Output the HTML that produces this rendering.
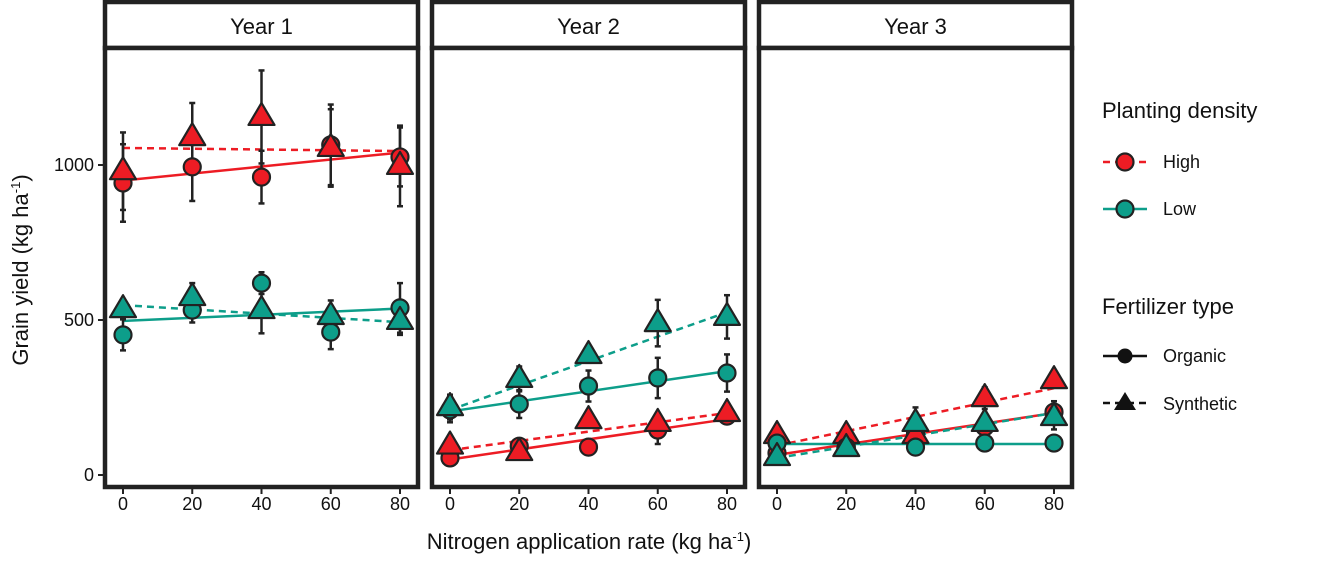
<!DOCTYPE html>
<html><head><meta charset="utf-8"><style>
body{margin:0;background:#fff;}
svg text{font-family:"Liberation Sans",sans-serif;fill:#111;}
</style></head><body>
<svg id="chart" width="1333" height="558" viewBox="0 0 1333 558" xmlns="http://www.w3.org/2000/svg"></svg>
<script>
const years = ["Year 1","Year 2","Year 3"];
const nRates = [0,20,40,60,80];
const yTicks = [0,500,1000];
const xTicks = [0,20,40,60,80];
const orgHigh = [[942,994,961,1065,1026],[55,93,90,145,190],[71,90,135,155,203]];
const synHigh = [[980,1090,1155,1055,997],[95,74,177,168,200],[129,129,129,248,306]];
const orgLow  = [[452,532,619,461,539],[210,229,287,313,329],[103,90,90,103,103]];
const synLow  = [[535,574,532,513,497],[219,310,387,490,510],[58,87,168,168,187]];
const sdOrgHigh = [[125,110,85,130,95],[15,15,10,45,25],[10,15,15,15,35]];
const sdSynHigh = [[125,110,150,125,130],[15,15,15,15,25],[20,15,20,35,20]];
const sdOrgLow  = [[50,40,35,55,80],[40,45,50,65,60],[15,15,15,15,15]];
const sdSynLow  = [[30,45,75,50,45],[40,40,25,75,70],[15,15,50,20,40]];
const fitOrgHigh = [[950,1040],[50,180],[65,200]];
const fitSynHigh = [[1055,1045],[80,200],[95,280]];
const fitOrgLow  = [[497,537],[205,335],[100,100]];
const fitSynLow  = [[548,493],[210,525],[55,200]];

const svg=document.getElementById('chart');
const NS="http://www.w3.org/2000/svg";
function mk(t,a,p){const e=document.createElementNS(NS,t);for(const k in a)e.setAttribute(k,a[k]);(p||svg).appendChild(e);return e;}
const panelX=[105,432,759], panelW=313, panelTop=48, panelBot=487;
const y=v=>475-v*0.31;
const xf=(i,v)=>panelX[i]+18+v*(277/80);
const RED="#ed1c24", TEAL="#0d9e8a";

years.forEach((yr,i)=>{
  const px=panelX[i];
  const strip=mk('rect',{x:px,y:2,width:panelW,height:46,fill:'#fff',stroke:'#222','stroke-width':4.5});
  
  
  const st=mk('text',{x:px+panelW/2,y:34,'text-anchor':'middle','font-size':22});st.textContent=yr;
  
  
  const pr=mk('rect',{x:px,y:panelTop,width:panelW,height:panelBot-panelTop,fill:'#fff',stroke:'#222','stroke-width':4.5});
  
  
  xTicks.forEach(t=>{
    mk('line',{x1:xf(i,t),x2:xf(i,t),y1:panelBot+2,y2:panelBot+7,stroke:'#222','stroke-width':2});
    const tx=mk('text',{x:xf(i,t),y:510,'text-anchor':'middle','font-size':18});tx.textContent=t;
    
    
  });
  const series=[
    [fitOrgHigh,orgHigh,sdOrgHigh,RED,false,'circle'],
    [fitSynHigh,synHigh,sdSynHigh,RED,true,'tri'],
    [fitOrgLow,orgLow,sdOrgLow,TEAL,false,'circle'],
    [fitSynLow,synLow,sdSynLow,TEAL,true,'tri']];
  series.forEach(s=>{
    const ln=mk('line',{x1:xf(i,0),x2:xf(i,80),y1:y(s[0][i][0]),y2:y(s[0][i][1]),stroke:s[3],'stroke-width':2.5,'stroke-dasharray':s[4]?'7,5':'none'});
    
    
  });
  series.forEach(s=>{
    nRates.forEach((r,j)=>{
      const cx=xf(i,r),v=s[1][i][j],sd=s[2][i][j];
      mk('line',{x1:cx,x2:cx,y1:y(v-sd),y2:y(v+sd),stroke:'#222','stroke-width':2.5});
      mk('line',{x1:cx-3,x2:cx+3,y1:y(v-sd),y2:y(v-sd),stroke:'#222','stroke-width':2.5});
      mk('line',{x1:cx-3,x2:cx+3,y1:y(v+sd),y2:y(v+sd),stroke:'#222','stroke-width':2.5});
    });
  });
  series.forEach(s=>{
    nRates.forEach((r,j)=>{
      const cx=xf(i,r),cy=y(s[1][i][j]);let m;
      if(s[5]==='circle') m=mk('circle',{cx:cx,cy:cy,r:8.5,fill:s[3],stroke:'#222','stroke-width':2.2});
      else m=mk('polygon',{points:`${cx},${cy-14} ${cx-13},${cy+8} ${cx+13},${cy+8}`,fill:s[3],stroke:'#222','stroke-width':2.2,'stroke-linejoin':'round'});
      
      
    });
  });
});
yTicks.forEach(t=>{
  mk('line',{x1:98,x2:103,y1:y(t),y2:y(t),stroke:'#222','stroke-width':2});
  const tx=mk('text',{x:94,y:y(t)+6,'text-anchor':'end','font-size':18});tx.textContent=t;
  
  
});
</script>
<svg width="1333" height="558" style="position:absolute;left:0;top:0" xmlns="http://www.w3.org/2000/svg">
<text x="589" y="549" font-size="22" text-anchor="middle">Nitrogen application rate (kg ha<tspan dy="-8" font-size="13">-1</tspan><tspan dy="8">)</tspan></text>
<text transform="translate(28,270) rotate(-90)" font-size="22" text-anchor="middle">Grain yield (kg ha<tspan dy="-8" font-size="13">-1</tspan><tspan dy="8">)</tspan></text>
<g>
<text x="1102" y="118" font-size="22">Planting density</text>
<line x1="1103" x2="1147" y1="162" y2="162" stroke="#ed1c24" stroke-width="2.5" stroke-dasharray="7,5"/>
<circle cx="1125" cy="162" r="8.5" fill="#ed1c24" stroke="#222" stroke-width="2.2"/>
<text x="1163" y="168" font-size="18">High</text>
<line x1="1103" x2="1147" y1="209" y2="209" stroke="#0d9e8a" stroke-width="2.5"/>
<circle cx="1125" cy="209" r="8.5" fill="#0d9e8a" stroke="#222" stroke-width="2.2"/>
<text x="1163" y="215" font-size="18">Low</text>
</g>
<g>
<text x="1102" y="314" font-size="22">Fertilizer type</text>
<line x1="1103" x2="1147" y1="356" y2="356" stroke="#111" stroke-width="2.5"/>
<circle cx="1125" cy="356" r="7.5" fill="#111"/>
<text x="1163" y="362" font-size="18">Organic</text>
<line x1="1103" x2="1147" y1="403" y2="403" stroke="#111" stroke-width="2.5" stroke-dasharray="7,5"/>
<polygon points="1125,392 1114,410 1136,410" fill="#111"/>
<text x="1163" y="410" font-size="18">Synthetic</text>
</g>
</svg>
</body></html>
